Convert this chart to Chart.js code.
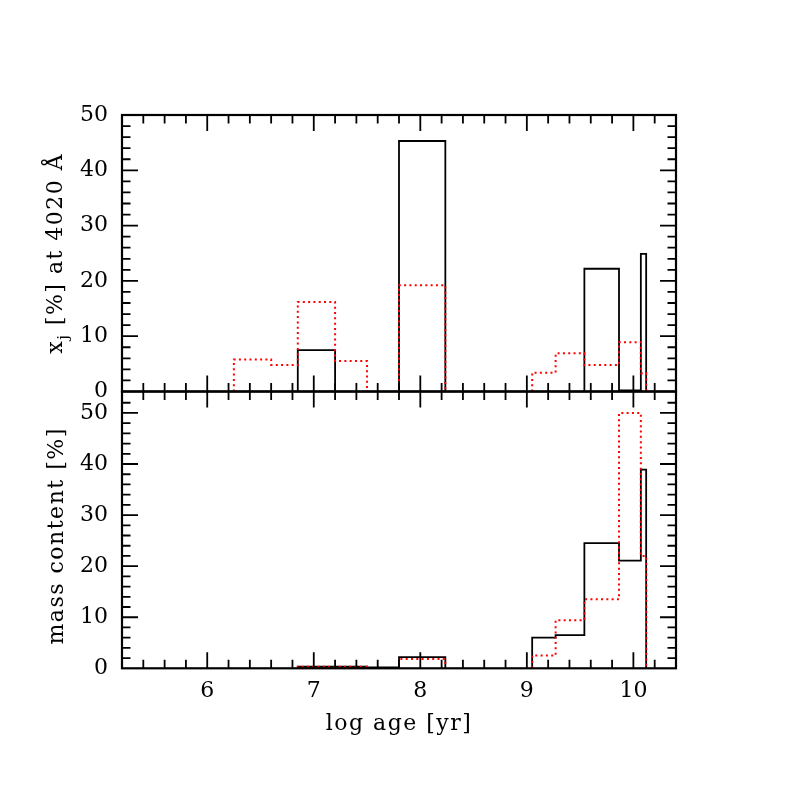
<!DOCTYPE html>
<html>
<head>
<meta charset="utf-8">
<script src="https://cdn.jsdelivr.net/npm/chart.js@4.4.1/dist/chart.umd.min.js"></script>
<style>
  html, body { margin: 0; padding: 0; background: #fff; }
  #wrap { position: relative; width: 789px; height: 789px; }
  #wrap canvas { position: absolute; left: 0; top: 0; }
</style>
</head>
<body>
<div id="wrap">
  <canvas id="light" width="789" height="789"></canvas>
  <canvas id="mass" width="789" height="789"></canvas>
</div>
<script>
/* ── DATA ── */
var ageEdges   = [6.25, 6.6, 6.85, 7.2, 7.5, 7.8, 8.235, 9.05, 9.27, 9.54, 9.865, 10.07, 10.12];
var lightBlack = [0, 0, 7.5, 0, 0, 45.3, 0, 0, 0, 22.2, 0.2, 24.9];
var lightRed   = [5.8, 4.8, 16.2, 5.5, 0, 19.2, 0, 3.4, 6.9, 4.8, 8.9, 3.3];
var massBlack  = [0, 0, 0.3, 0.3, 0.2, 2.2, 0, 6.0, 6.5, 24.5, 21.1, 38.9];
var massRed    = [0, 0, 0.3, 0.3, 0, 1.8, 0, 2.5, 9.4, 13.5, 50.0, 22.0];
var xTicks = [6, 7, 8, 9, 10];
var yTicks = [0, 10, 20, 30, 40, 50];

var FONT = 'DejaVu Serif';
Chart.defaults.font.family = FONT;
Chart.defaults.font.size = 22;
Chart.defaults.color = '#000';

/* histogram outline as stepped points, broken where bins are empty */
function stepPoints(vals) {
  var pts = [], prev = 0;
  vals.forEach(function (v, i) {
    var x = ageEdges[i];
    if (v > 0 && prev === 0) pts.push({ x: x, y: 0 });
    if (v > 0) pts.push({ x: x, y: v });
    if (v === 0 && prev > 0) { pts.push({ x: x, y: 0 }); pts.push({ x: x, y: null }); }
    prev = v;
  });
  if (prev > 0) pts.push({ x: ageEdges[vals.length], y: 0 });
  return pts;
}

function redSet(vals) {
  return { data: stepPoints(vals), borderColor: '#ff0000', borderWidth: 2,
           borderDash: [2, 3.3], stepped: true, pointRadius: 0, fill: false };
}
function blackSet(vals) {
  return { data: stepPoints(vals), borderColor: '#000', borderWidth: 1.8,
           stepped: true, pointRadius: 0, fill: false };
}

function drawRuns(ctx, runs, cx, cy, rot) {
  ctx.save();
  ctx.translate(cx, cy);
  ctx.rotate(rot);
  ctx.fillStyle = '#000';
  ctx.textAlign = 'left';
  ctx.textBaseline = 'alphabetic';
  ctx.letterSpacing = '1.5px';
  var total = 0;
  runs.forEach(function (r) {
    ctx.font = r.size + 'px "' + FONT + '"';
    r.w = ctx.measureText(r.t).width;
    total += r.w;
  });
  var x = -total / 2;
  runs.forEach(function (r) {
    ctx.font = r.size + 'px "' + FONT + '"';
    ctx.fillText(r.t, x, r.dy || 0);
    x += r.w;
  });
  ctx.restore();
}

/* frame with inward ticks on all four sides + axis titles */
function framePlugin(titles) {
  return {
    id: 'frame',
    afterDatasetsDraw: function (chart) {
      var a = chart.chartArea, ctx = chart.ctx;
      var xs = chart.scales.x, ys = chart.scales.y;
      ctx.save();
      ctx.strokeStyle = '#000';
      ctx.lineWidth = 1.8;
      ctx.beginPath();
      for (var k = 27; k <= 51; k++) {
        var px = xs.getPixelForValue(k * 0.2);
        var len = (k % 5 === 0) ? 16 : 8.5;
        ctx.moveTo(px, a.bottom); ctx.lineTo(px, a.bottom - len);
        ctx.moveTo(px, a.top); ctx.lineTo(px, a.top + len);
      }
      for (var v = 2; v < ys.max - 0.5; v += 2) {
        var py = ys.getPixelForValue(v);
        var l2 = (v % 10 === 0) ? 16 : 8.5;
        ctx.moveTo(a.left, py); ctx.lineTo(a.left + l2, py);
        ctx.moveTo(a.right, py); ctx.lineTo(a.right - l2, py);
      }
      ctx.stroke();
      ctx.lineWidth = 2.2;
      ctx.strokeRect(a.left, a.top, a.right - a.left, a.bottom - a.top);
      ctx.restore();
      titles(ctx, a);
    }
  };
}

function makeChart(id, sets, yMax, pad, showX, titles) {
  return new Chart(document.getElementById(id), {
    type: 'line',
    data: { datasets: sets },
    plugins: [framePlugin(titles)],
    options: {
      responsive: false,
      animation: false,
      layout: { padding: pad },
      plugins: { legend: { display: false }, tooltip: { enabled: false } },
      scales: {
        x: {
          type: 'linear', min: 5.2, max: 10.4, display: showX,
          afterBuildTicks: function (s) { s.ticks = xTicks.map(function (v) { return { value: v }; }); },
          afterFit: function (s) { if (showX) s.height = 789 - 668.3; },
          grid: { display: false, drawTicks: false },
          border: { display: false },
          ticks: { padding: 10, maxRotation: 0 }
        },
        y: {
          type: 'linear', min: 0, max: yMax,
          afterBuildTicks: function (s) { s.ticks = yTicks.map(function (v) { return { value: v }; }); },
          afterFit: function (s) { s.width = 122; },
          grid: { display: false, drawTicks: false },
          border: { display: false },
          ticks: { padding: 14 }
        }
      }
    }
  });
}

makeChart('light', [redSet(lightRed), blackSet(lightBlack)], 50,
  { left: 0, right: 113, top: 115, bottom: 789 - 391.5 }, false,
  function (ctx, a) {
    drawRuns(ctx, [
      { t: 'x', size: 22 },
      { t: 'j', size: 15, dy: 6 },
      { t: ' [%] at 4020 Å', size: 22 }
    ], 62, (a.top + a.bottom) / 2, -Math.PI / 2);
  });

makeChart('mass', [redSet(massRed), blackSet(massBlack)], 54.2,
  { left: 0, right: 113, top: 391.5, bottom: 0 }, true,
  function (ctx, a) {
    drawRuns(ctx, [{ t: 'mass content [%]', size: 22 }], 63, (a.top + a.bottom) / 2 + 6, -Math.PI / 2);
    drawRuns(ctx, [{ t: 'log age [yr]', size: 22 }], (a.left + a.right) / 2, 730, 0);
  });
</script>
</body>
</html>
